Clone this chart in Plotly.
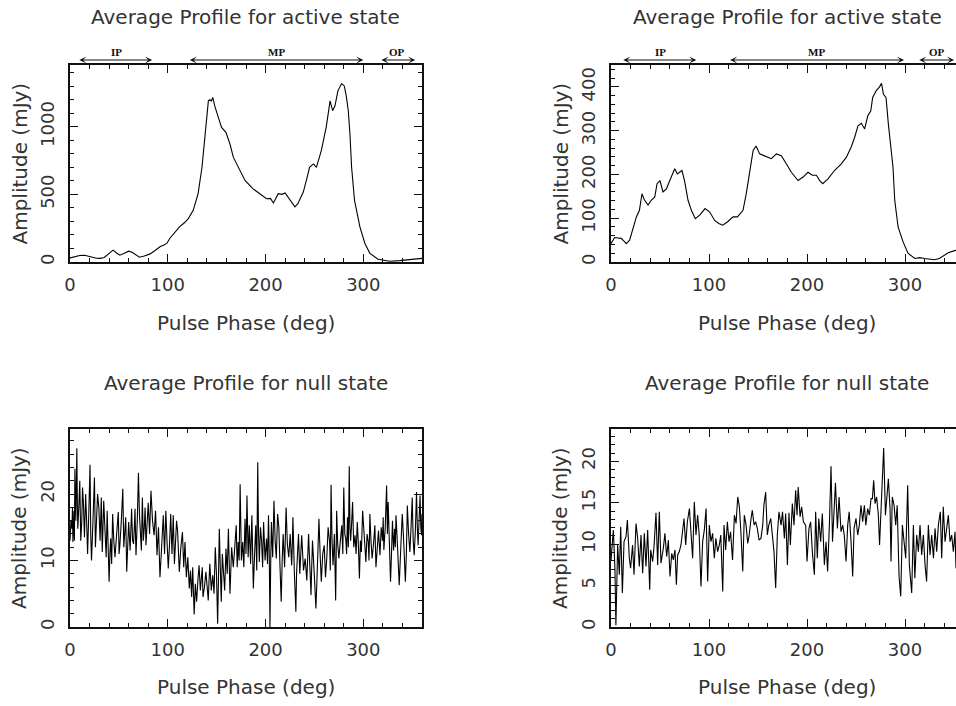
import plotly.graph_objects as go

# ---------------- data ----------------
tl_phase = [0, 5, 10, 15, 19, 23, 27, 31, 35, 40,
            44, 48, 51, 55, 60, 64, 68, 71, 76, 82,
            87, 92, 96, 99, 102, 107, 112, 117, 121, 126,
            131, 135, 137, 139, 141.5, 143, 144.5, 146, 148, 151.7,
            155, 159.5, 163.6, 167, 174, 179, 187, 194, 198, 201,
            205, 208, 213, 217, 220, 223, 226, 230, 233, 238.6,
            242, 245, 249, 252, 257, 262, 266, 268.6, 271, 274,
            277.8, 280.5, 282.5, 284.6, 286.3, 288, 291, 296.5, 301.6, 306.7,
            315, 321, 327, 337, 345, 351, 360]
tl_amp = [30, 40, 48, 50, 45, 35, 28, 27, 33, 60,
          88, 65, 50, 62, 80, 70, 48, 35, 45, 60,
          85, 112, 125, 137, 174, 215, 260, 290, 321, 382,
          505, 700, 848, 1050, 1191, 1199, 1190, 1216, 1154, 1069,
          995, 958, 872, 775, 676, 603, 542, 505, 490, 468,
          470, 436, 505, 500, 510, 480, 445, 407, 431, 517,
          610, 700, 725, 700, 823, 995, 1191, 1118, 1154, 1265,
          1319, 1301, 1230, 1118, 946, 700, 456, 260, 137, 64,
          20, 10, 5, 10, 15, 20, 27]

tr_phase = [0, 3.7, 7, 10.5, 13, 15.6, 19, 22.4, 25.9, 29,
            31.6, 34, 36, 37.8, 41, 44.6, 47, 50, 53, 56.5,
            60, 65, 67.7, 70, 72.4, 75, 78.6, 82, 86, 90.5,
            96, 100.7, 105.8, 110, 114, 119, 124.5, 129, 134.7, 138,
            141.5, 145, 148, 151.7, 156, 160, 163.6, 168.7, 173.8, 179,
            184, 190.8, 196, 201, 205.4, 209.5, 213, 216, 221.4, 228,
            235, 240, 243.5, 245, 248.6, 252, 255.4, 258.8, 262, 265,
            267, 270.5, 274, 276, 278, 280.6, 283, 285.8, 287.7, 289.5,
            292.9, 298, 303, 310, 315, 320, 325, 330, 335, 338.8,
            344, 350.7, 355, 360]
tr_amp = [42, 56, 55, 54, 48, 42, 50, 76, 103, 118,
          156, 142, 135, 130, 141, 148, 179, 186, 160, 167,
          186, 213, 201, 205, 209, 186, 141, 118, 99, 107,
          122, 114, 95, 88, 84, 92, 103, 103, 118, 156,
          209, 255, 265, 247, 243, 239, 236, 247, 243, 224,
          205, 186, 194, 205, 198, 198, 186, 179, 190, 209,
          224, 239, 255, 262, 285, 311, 317, 304, 334, 345,
          376, 391, 400, 408, 383, 376, 315, 262, 217, 141,
          80, 46, 20, 8, 10, 8, 6, 5, 8, 14,
          21, 26, 30, 33]

bl_phase = [0, 1, 2, 2.5, 3, 3.5, 4, 4.5, 5, 6, 7, 7.5,
            8, 9, 10, 11, 12, 12.8, 13.6, 14.8, 16, 17, 18, 19.2,
            20.5, 21.2, 22, 23.5, 25, 26, 27, 28.2, 29.5, 30.8, 32, 32.5,
            33, 34.5, 36, 37, 38, 39, 40, 40.8, 41.6, 42.6, 43.6, 44.8,
            46, 47.7, 49.4, 50.2, 51, 52.5, 54, 55, 56, 57, 58, 59,
            60, 61.5, 63, 64, 65, 65.8, 66.5, 67, 67.5, 68.8, 70, 71,
            72, 73, 74, 75, 76, 76.8, 77.7, 78.8, 80, 81.4, 82.8, 84.4,
            86, 87.5, 89, 90.5, 92, 93.7, 95.4, 96.7, 98, 99.2, 100.5, 101.8,
            103, 104.3, 105.6, 106.8, 108, 109, 110, 111, 111.8, 113.4, 115, 116.3,
            117.6, 118.3, 119, 120.5, 122, 123.2, 124.4, 125, 125.5, 126.3, 127, 128.2,
            129.5, 130.8, 132, 133.3, 134.6, 135.3, 136, 137.5, 139, 140.2, 141.4, 142.2,
            143, 144.5, 146, 147.3, 148.6, 149.8, 151, 151.8, 152.7, 153.7, 154.7, 155.8,
            157, 158.2, 159.5, 160.8, 162, 162.8, 163.6, 165.3, 167, 168.5, 170, 171,
            172, 173, 174, 175.3, 176.6, 177.8, 179, 180, 181, 182.2, 183.4, 184.7,
            186, 186.8, 187.5, 188.8, 190, 191, 192, 192.8, 193.6, 194.8, 196, 197,
            198, 199.5, 201, 202, 203, 203.8, 204.5, 205.3, 206, 207.3, 208.6, 209.8,
            211, 212.3, 213.6, 214.8, 216, 217, 218, 219.5, 221, 222.3, 223.7, 225.2,
            226.7, 227.3, 228, 229.5, 231, 231.7, 232.4, 233.7, 235, 236, 237, 238.8,
            240.5, 242.2, 244, 245.2, 246.5, 247.2, 248, 249.8, 251.5, 253, 254.6, 255.8,
            257, 258.5, 260, 261.3, 262.6, 264, 265.5, 266.2, 267, 268, 269, 270.4,
            271.7, 272.2, 272.7, 273.8, 275, 276.5, 278, 279, 280, 281, 282, 282.9,
            283.8, 284.7, 285.6, 286.3, 287, 288, 289, 290.2, 291.5, 292.6, 293.8, 294.9,
            296, 297, 298, 299.3, 300.6, 301.6, 302.6, 303.8, 305, 305.8, 306.7, 307.8,
            309, 310.4, 311.8, 312.9, 314, 315.5, 317, 318.3, 319.6, 320.3, 321, 322.4,
            323.8, 324.6, 325.4, 326.6, 327.8, 328.8, 329.8, 330.9, 332, 332.7, 333.4, 335,
            336.7, 337.6, 338.5, 339.8, 341, 342, 343, 344, 345, 346.3, 347.6, 348.8,
            350, 351, 352, 353.2, 354.4, 355.2, 356, 357, 358, 358.8, 359.5, 360]
bl_amp = [13, 16, 14.8, 18, 12.8, 15, 17.5, 13, 23.8, 16, 26.9, 19,
          14.8, 18, 22, 13, 15.8, 21, 19, 13.5, 20, 16, 11, 17,
          24.4, 14, 10, 16, 22.5, 12, 15.3, 20, 18, 13, 19.5, 15,
          11.3, 19, 14.8, 10.5, 17.5, 12, 6.8, 11, 13.3, 9.5, 17, 13,
          10.5, 14, 17.3, 11, 12.3, 16, 20.8, 12, 14, 16.5, 8.3, 12,
          15.8, 11.5, 17.8, 13, 12.5, 15, 17.8, 14, 10.8, 16, 23.2, 17,
          14, 11.5, 19.5, 13, 15, 18, 12.3, 15, 18.7, 14, 20.5, 16,
          13.8, 17.5, 10.8, 15, 7.5, 12, 16.8, 11, 17.5, 13, 8.8, 12.5,
          17, 11, 16.8, 9.5, 12.5, 16, 14.5, 10.5, 8.3, 12, 14.3, 9,
          12.8, 10, 7.5, 10.5, 5.8, 8.5, 4.5, 7, 9, 5, 1.9, 6.5,
          3.8, 7, 9.3, 5.5, 7.3, 9, 4.5, 6, 8.3, 5.5, 4, 7,
          9.5, 5.5, 7.8, 5, 12, 8, 0.5, 7, 14.8, 9, 3.8, 11,
          8.3, 5.5, 11.8, 8, 14.8, 10, 5, 12, 9, 12, 15.3, 9,
          12.8, 10, 21.5, 10, 12.8, 9, 16.3, 11, 19.8, 10.5, 15.3, 9.5,
          16.8, 11, 5.8, 11, 15.3, 8.5, 24.8, 14, 9.8, 15, 12.8, 9,
          15.8, 10, 13.3, 9.5, 16.8, 11, 0, 10, 15.8, 10.5, 19, 13,
          10.3, 17, 15, 9, 3.8, 10, 14, 9, 18, 12.5, 10.5, 14,
          9.3, 12, 16.5, 8, 2.3, 8, 11.3, 14, 8, 11, 13.8, 8.5,
          10.3, 7, 14, 9.5, 4.8, 9, 13, 8, 2.8, 9, 16.3, 11,
          6.8, 11, 12.3, 7.5, 10.3, 15, 12.8, 8.5, 21.4, 13, 9.3, 14,
          4, 10, 17.5, 12.5, 10.3, 13, 15.3, 11, 21, 14, 13.3, 11,
          16.5, 12, 24.2, 15, 13, 15.5, 18.8, 12, 13.8, 11, 15.8, 12.5,
          7.3, 13, 11.3, 17.5, 15, 12, 9.8, 14, 12.8, 10, 17, 13,
          10.3, 12.5, 15.3, 9, 11, 14.5, 10.8, 15, 13, 16.5, 11.6, 15,
          21.3, 14, 18.8, 12, 6.8, 11, 16, 11.5, 14.8, 12, 16.8, 12,
          6.3, 9.5, 12.3, 17, 13.8, 11, 6.8, 11, 18.3, 14, 11.3, 15,
          19.5, 13, 10.8, 14.5, 20.3, 15, 12.3, 16, 19.8, 15, 13.8, 17]

br_phase = [0, 0.7, 2.4, 4, 5, 6.8, 8.5, 9.9, 11.6, 13.3,
            15.3, 16.7, 18.7, 20, 22, 23.5, 25.5, 27.2, 28.9, 30.6,
            32.3, 34, 35.7, 37.4, 39.5, 40.5, 42.5, 43.9, 45.9, 47.6,
            49.3, 51, 53.4, 55, 56.8, 58.5, 60.2, 62, 63.6, 65.3,
            66.7, 68, 69.7, 71.4, 73, 74.5, 76.2, 77.9, 80, 81.6,
            83.3, 85, 86.7, 88.4, 90, 91.8, 93.5, 95.2, 97, 98.6,
            100.3, 102, 103.7, 105.4, 107, 108.8, 110.5, 112, 114, 115.3,
            117, 118.7, 120.4, 122, 124, 125.9, 127.6, 129.3, 131, 132.7,
            134.4, 136, 137.8, 139.5, 141, 142.9, 144.2, 146, 147.6, 149.3,
            151, 153, 154.8, 156, 157.8, 159.5, 161, 163, 164.6, 166.3,
            168, 169.7, 171.4, 173.5, 175, 176.9, 178.2, 180, 181.6, 183,
            185, 186.7, 188.4, 189.8, 191, 192.9, 194.5, 196.3, 198.6, 200,
            202, 203.7, 205.4, 207.5, 208.8, 210.5, 212, 213.9, 215.6, 217.7,
            219.4, 221, 222.8, 224.5, 226, 227.6, 229, 231, 232.7, 234.7,
            236.4, 238, 239.8, 241.5, 243, 244.9, 246.6, 248, 250, 251.7,
            253.4, 255, 256.8, 258.5, 260, 261.9, 263.6, 265.3, 266.7, 268,
            269.4, 271, 272.8, 274, 275.5, 276.9, 278.2, 280, 281.3, 283,
            284.7, 285.7, 287, 288.8, 290.5, 292, 293.9, 295.6, 297.3, 299,
            300.7, 302.7, 304.4, 306.8, 308.5, 310, 311.9, 313.6, 315.3, 317,
            318.7, 320.4, 322, 323.8, 325.5, 327.2, 329, 330.6, 332.3, 334,
            336, 337.4, 339, 340.8, 342.5, 344.2, 345.9, 347.6, 349.3, 351,
            352, 353.5, 356, 358, 360]
br_amp = [8, 9.1, 11.7, 7.1, 0.2, 9.9, 6.3, 12.1, 4.1, 10.3,
          10.9, 12.9, 8.3, 7.1, 9.9, 6.3, 12.5, 10.7, 7.3, 11.1,
          6.5, 11.3, 7.3, 11.7, 4.5, 9.3, 7.9, 9.7, 13.8, 7.5,
          13.9, 7.7, 9.5, 11.3, 8.5, 10.5, 6.1, 8.9, 8.1, 9.3,
          5.1, 8.7, 9.1, 9.9, 11.5, 13.1, 9.9, 12.7, 14.3, 11.1,
          8.3, 15.1, 11.1, 13.5, 11.1, 4.9, 10.3, 11.7, 14.3, 5.5,
          12.3, 10.3, 11.3, 8.3, 10.7, 9.1, 9.9, 11.1, 4.3, 12.3,
          9.3, 12.7, 10.3, 11.5, 8.1, 13.5, 12.5, 15.7, 14.5, 11.1,
          6.7, 13.5, 12.3, 10.1, 11.1, 13.1, 14.1, 12.3, 12.7, 11.9,
          10.5, 10.7, 12.3, 14.7, 16.3, 11.1, 12.3, 13.1, 10.7, 9.1,
          4.7, 11.1, 13.9, 12.3, 13.9, 10.7, 13.7, 7.5, 13.8, 9.9,
          14.9, 12.3, 16.5, 13.5, 16.9, 13.3, 14.5, 12.7, 12.3, 7.9,
          11.9, 12.7, 9.1, 6.3, 13.9, 8.3, 13.1, 10.3, 13.7, 7.5,
          10.3, 6.7, 12.3, 19.4, 10.3, 15.1, 17.4, 11.9, 15.7, 11.5,
          12.3, 11.1, 7.9, 12.3, 13.9, 10.3, 6.1, 11.9, 13.1, 11.1,
          12.3, 14.7, 12.7, 14.7, 12.3, 14.3, 13.5, 15.5, 15.5, 17.7,
          14.9, 15.7, 13.5, 9.9, 14.7, 17.1, 21.6, 13.5, 15.7, 17.9,
          14.3, 7.9, 15.7, 14.7, 12.3, 14.7, 6.1, 3.7, 12.3, 10.3,
          8.3, 17.1, 7.5, 4.1, 12.3, 5.9, 11.1, 9.1, 12.3, 8.7,
          11.1, 7.5, 5.5, 12.3, 8.7, 11.1, 8.3, 11.9, 9.1, 12.3,
          13.9, 8.3, 14.5, 10.3, 12.3, 13.5, 10.3, 11.1, 9.1, 11.5,
          7.1, 10, 8, 11, 9]

# component windows (label, start, end, label position) in degrees
left_regions = [("IP", 8, 84, 48), ("MP", 121, 300, 211), ("OP", 317, 353, 334)]
right_regions = [("IP", 11, 87, 51), ("MP", 120, 299, 210), ("OP", 313, 350, 333)]

titles = ["Average Profile for active state", "Average Profile for active state",
          "Average Profile for null state", "Average Profile for null state"]
x_title = "Pulse Phase (deg)"
y_title = "Amplitude (mJy)"

# ---------------- figure ----------------
W, H = 956, 706
FONT = "DejaVu Sans ExtraLight, DejaVu Sans, sans-serif"
INK = "#111111"
TXT = "#333333"

fig = go.Figure()
panels = [(tl_phase, tl_amp), (tr_phase, tr_amp), (bl_phase, bl_amp), (br_phase, br_amp)]
for i, (px, py) in enumerate(panels):
    sfx = "" if i == 0 else str(i + 1)
    fig.add_trace(go.Scatter(x=px, y=py, mode="lines",
                             line=dict(color="black", width=1.1),
                             xaxis="x" + sfx, yaxis="y" + sfx, showlegend=False,
                             hoverinfo="skip"))

def xdom(l, r):
    return [l / W, min(r / W, 1.0)]

def ydom(t, b):
    return [1 - b / H, 1 - t / H]

left_x = xdom(70, 422)
right_x = xdom(611, 956)
top_y = ydom(65, 262)
bot_y = ydom(429, 627)

def axis_common(dtick, mdtick):
    return dict(showline=True, linecolor=INK, linewidth=1.6, automargin=False,
                ticks="inside", ticklen=8, tickwidth=1.2, tickcolor=INK,
                showgrid=False, zeroline=False, dtick=dtick, tick0=0,
                tickfont=dict(family=FONT, size=18, color=TXT),
                minor=dict(ticks="inside", ticklen=4, tickwidth=1.2,
                           tickcolor=INK, dtick=mdtick, tick0=0, showgrid=False))

layout = dict(width=W, height=H, margin=dict(l=0, r=0, t=0, b=0, pad=0),
              paper_bgcolor="white", plot_bgcolor="white", showlegend=False,
              template="none")

specs = [
    # (x domain, y domain, x range, y range, y dtick, y minor, mirror y)
    (left_x, top_y, [0, 360], [0, 1456], 500, 100, True),
    (right_x, top_y, [0, 352], [0, 450], 100, 20, False),
    (left_x, bot_y, [0, 360], [0, 29.8], 10, 2, True),
    (right_x, bot_y, [0, 352], [0, 23.9], 5, 1, False),
]
for i, (xd, yd, xr, yr, ydt, ymd, ymir) in enumerate(specs):
    sfx = "" if i == 0 else str(i + 1)
    xa = axis_common(100, 20)
    xa.update(domain=xd, range=xr, anchor="y" + sfx, mirror="ticks",
              ticklabelstandoff=6)
    ya = axis_common(ydt, ymd)
    ya.update(domain=yd, range=yr, anchor="x" + sfx,
              mirror="ticks" if ymir else False, tickangle=-90,
              ticklabelstandoff=7)
    layout["xaxis" + sfx] = xa
    layout["yaxis" + sfx] = ya

fig.update_layout(**layout)

annotations = []
title_font = dict(family=FONT, size=20, color=TXT)
centers_x = [246 / W, 787 / W, 246 / W, 787 / W]
title_y = [1 - 17 / H, 1 - 17 / H, 1 - 383 / H, 1 - 383 / H]
xt_y = [1 - 323 / H, 1 - 323 / H, 1 - 687 / H, 1 - 687 / H]
yt_x = [19 / W, 560 / W, 19 / W, 560 / W]
yt_y = [1 - 163.5 / H, 1 - 163.5 / H, 1 - 528 / H, 1 - 528 / H]
for i in range(4):
    annotations.append(dict(text=titles[i], x=centers_x[i], y=title_y[i],
                            xref="paper", yref="paper", showarrow=False,
                            xanchor="center", yanchor="middle", font=title_font))
    annotations.append(dict(text=x_title, x=centers_x[i], y=xt_y[i],
                            xref="paper", yref="paper", showarrow=False,
                            xanchor="center", yanchor="middle", font=title_font))
    annotations.append(dict(text=y_title, x=yt_x[i], y=yt_y[i], textangle=-90,
                            xref="paper", yref="paper", showarrow=False,
                            xanchor="center", yanchor="middle", font=title_font))

for sfx, regions in (("", left_regions), ("2", right_regions)):
    for name, a, b, c in regions:
        annotations.append(dict(text=" ", font=dict(size=1),
                                x=b, y=1.0254, ax=a, ay=1.0254,
                                xref="x" + sfx, axref="x" + sfx,
                                yref="y" + sfx + " domain", ayref="y" + sfx + " domain",
                                showarrow=True, arrowhead=3, startarrowhead=3,
                                arrowside="end+start", arrowsize=1.2,
                                arrowwidth=1, arrowcolor=INK,
                                standoff=0, startstandoff=0))
        annotations.append(dict(text="<b>%s</b>" % name, x=c, y=1.066,
                                xref="x" + sfx, yref="y" + sfx + " domain",
                                showarrow=False, xanchor="center", yanchor="middle",
                                font=dict(family="Liberation Serif, serif", size=11,
                                          color=INK)))

fig.update_layout(annotations=annotations)
fig.write_html("out.html")
